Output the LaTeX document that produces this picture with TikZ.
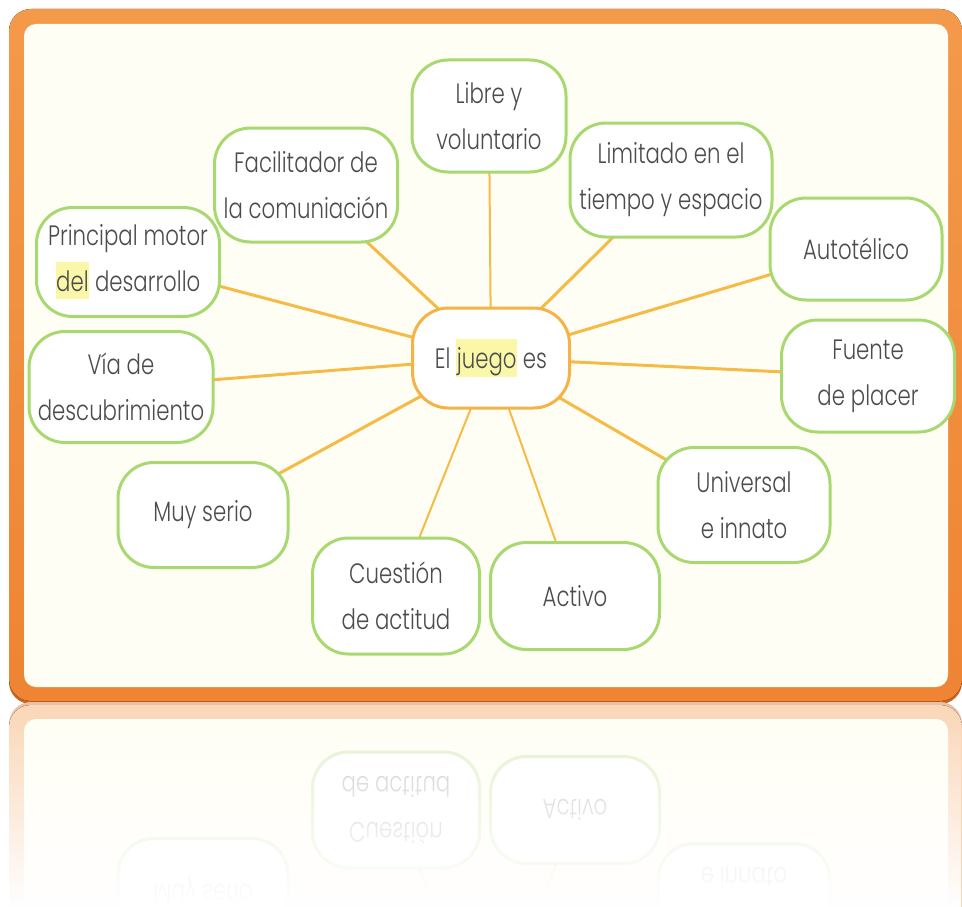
\documentclass[tikz,border=0pt]{standalone}
\usepackage{fontspec}
\setmainfont{Poppins}[UprightFont=* Light, FakeStretch=0.76]
\usetikzlibrary{fadings}
\pgfdeclarelayer{frame}
\pgfdeclarelayer{lines}
\pgfsetlayers{frame,lines,main}
\definecolor{frameorange}{HTML}{EE8434}
\definecolor{frametop}{HTML}{F39A4A}
\definecolor{framebot}{HTML}{C9621F}
\definecolor{innerfill}{HTML}{FFFEF4}
\definecolor{boxgreen}{HTML}{A8D870}
\definecolor{centreorange}{HTML}{F5B245}
\definecolor{linegold}{HTML}{F6BA46}
\definecolor{txtgray}{HTML}{4C4C4C}
\definecolor{hlcolor}{HTML}{FAF8A8}
\definecolor{boxfill}{HTML}{FFFFFF}
\tikzfading[name=fadeout, top color=transparent!100, bottom color=transparent!0]
\newcommand\hlt[1]{{\setlength{\fboxsep}{0.5pt}\colorbox{hlcolor}{\rule[-7pt]{0pt}{36pt}#1}}}
\tikzset{
  ideabox/.style={draw=boxgreen, line width=3pt, fill=boxfill, rounded corners=36pt,
    align=center, inner sep=0pt, text=txtgray,
    font=\fontsize{28}{46}\selectfont},
  centrebox/.style={ideabox, draw=centreorange},
  conn/.style={draw=linegold, line width=3pt},
  thinconn/.style={draw=linegold, line width=2pt}
}
\newcommand\drawjuego[1]{%
  \begin{pgfonlayer}{frame}
    \fill[framebot, rounded corners=22pt] (9,11) rectangle (962,704);
    \fill[top color=frametop, bottom color=frameorange, rounded corners=22pt] (9,9) rectangle (962,701);
    \fill[innerfill, rounded corners=12pt] (24,24) rectangle (948,687);
  \end{pgfonlayer}
  \node[centrebox, minimum width=157pt, minimum height=100pt] (#1centro) at (491,358) {El \hlt{juego} es};
  \node[ideabox, minimum width=154pt, minimum height=112pt] (#1libre) at (489,116) {Libre y\\voluntario};
  \node[ideabox, minimum width=183pt, minimum height=114pt] (#1facil) at (306,185) {Facilitador de\\la comuniación};
  \node[ideabox, minimum width=202pt, minimum height=114pt] (#1limit) at (671,180) {Limitado en el\\tiempo y espacio};
  \node[ideabox, minimum width=172pt, minimum height=102pt] (#1auto) at (856,249) {Autotélico};
  \node[ideabox, minimum width=183pt, minimum height=109pt] (#1princ) at (128,262) {Principal motor\\\hlt{del} desarrollo};
  \node[ideabox, minimum width=184pt, minimum height=111pt] (#1via) at (121,387) {Vía de\\descubrimiento};
  \node[ideabox, minimum width=173pt, minimum height=112pt] (#1fuente) at (868,376) {Fuente\\de placer};
  \node[ideabox, minimum width=170pt, minimum height=105pt] (#1muy) at (203,515) {Muy serio};
  \node[ideabox, minimum width=172pt, minimum height=115pt] (#1univ) at (744,505) {Universal\\e innato};
  \node[ideabox, minimum width=167pt, minimum height=116pt] (#1cuest) at (396,596) {Cuestión\\de actitud};
  \node[ideabox, minimum width=169pt, minimum height=107pt] (#1activo) at (575,596) {Activo};
  \begin{pgfonlayer}{lines}
    \foreach \n in {facil,limit,auto,princ,via,fuente,muy,univ}
      \draw[conn] (#1centro.center) -- (#1\n.center);
    \foreach \n in {libre,cuest,activo}
      \draw[thinconn] (#1centro.center) -- (#1\n.center);
  \end{pgfonlayer}
}
\begin{document}
\begin{tikzpicture}[x=1pt,y=-1pt]
  \begin{pgfonlayer}{frame}
    \fill[white] (0,0) rectangle (962,907);
  \end{pgfonlayer}
  \useasboundingbox (0,0) rectangle (962,907);
  \drawjuego{}
  \begin{scope}[yshift=-1406pt, yscale=-1, transform shape]
    \colorlet{frameorange}{frameorange!40!white}
    \colorlet{frametop}{frametop!40!white}
    \colorlet{framebot}{framebot!40!white}
    \colorlet{boxgreen}{boxgreen!35!white}
    \colorlet{centreorange}{centreorange!35!white}
    \colorlet{linegold}{linegold!30!white}
    \colorlet{txtgray}{txtgray!30!white}
    \colorlet{hlcolor}{hlcolor!30!white}
    \drawjuego{r}
  \end{scope}
  \fill[white, path fading=fadeout] (0,703) rectangle (962,907);
\end{tikzpicture}
\end{document}
